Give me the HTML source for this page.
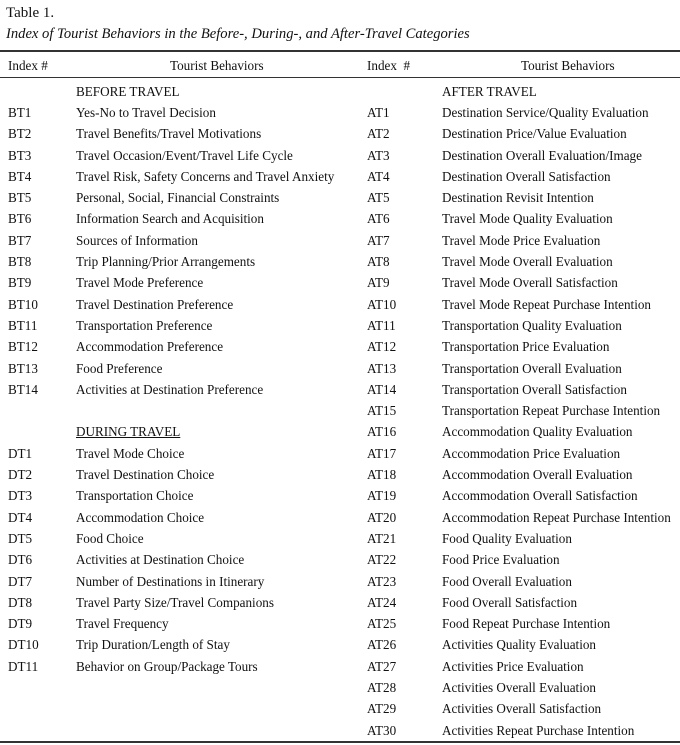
<!DOCTYPE html>
<html><head><meta charset="utf-8"><style>
body{margin:0;width:680px;height:745px;background:#fff;position:relative;overflow:hidden;font-family:"Liberation Serif",serif;color:#111}
.t{position:absolute;white-space:nowrap}
.rule{position:absolute;left:0;width:680px;background:#333}
.rows{position:absolute;left:0;top:83.7px;width:680px;font-size:13.15px}
.r{height:21.3px;line-height:16px;position:relative}
.r span{position:absolute;top:0;white-space:nowrap}
.a{left:8px}.b{left:76px}.c{left:367px}.d{left:442px}
</style></head><body>
<div class="t" style="left:6px;top:5px;font-size:15px">Table 1.</div>
<div class="t" style="left:6px;top:26px;font-size:14.6px;font-style:italic">Index of Tourist Behaviors in the Before-, During-, and After-Travel Categories</div>
<div class="rule" style="top:50px;height:2px"></div>
<div class="t" style="left:8px;top:58px;font-size:13.15px;line-height:16px">Index #</div>
<div class="t" style="left:170px;top:58px;font-size:13.15px;line-height:16px">Tourist Behaviors</div>
<div class="t" style="left:367px;top:58px;font-size:13.15px;line-height:16px">Index &nbsp;#</div>
<div class="t" style="left:521px;top:58px;font-size:13.15px;line-height:16px">Tourist Behaviors</div>
<div class="rule" style="top:77px;height:1px"></div>
<div class="rows">
<div class="r"><span class="b">BEFORE TRAVEL</span><span class="d">AFTER TRAVEL</span></div>
<div class="r"><span class="a">BT1</span><span class="b">Yes-No to Travel Decision</span><span class="c">AT1</span><span class="d">Destination Service/Quality Evaluation</span></div>
<div class="r"><span class="a">BT2</span><span class="b">Travel Benefits/Travel Motivations</span><span class="c">AT2</span><span class="d">Destination Price/Value Evaluation</span></div>
<div class="r"><span class="a">BT3</span><span class="b">Travel Occasion/Event/Travel Life Cycle</span><span class="c">AT3</span><span class="d">Destination Overall Evaluation/Image</span></div>
<div class="r"><span class="a">BT4</span><span class="b">Travel Risk, Safety Concerns and Travel Anxiety</span><span class="c">AT4</span><span class="d">Destination Overall Satisfaction</span></div>
<div class="r"><span class="a">BT5</span><span class="b">Personal, Social, Financial Constraints</span><span class="c">AT5</span><span class="d">Destination Revisit Intention</span></div>
<div class="r"><span class="a">BT6</span><span class="b">Information Search and Acquisition</span><span class="c">AT6</span><span class="d">Travel Mode Quality Evaluation</span></div>
<div class="r"><span class="a">BT7</span><span class="b">Sources of Information</span><span class="c">AT7</span><span class="d">Travel Mode Price Evaluation</span></div>
<div class="r"><span class="a">BT8</span><span class="b">Trip Planning/Prior Arrangements</span><span class="c">AT8</span><span class="d">Travel Mode Overall Evaluation</span></div>
<div class="r"><span class="a">BT9</span><span class="b">Travel Mode Preference</span><span class="c">AT9</span><span class="d">Travel Mode Overall Satisfaction</span></div>
<div class="r"><span class="a">BT10</span><span class="b">Travel Destination Preference</span><span class="c">AT10</span><span class="d">Travel Mode Repeat Purchase Intention</span></div>
<div class="r"><span class="a">BT11</span><span class="b">Transportation Preference</span><span class="c">AT11</span><span class="d">Transportation Quality Evaluation</span></div>
<div class="r"><span class="a">BT12</span><span class="b">Accommodation Preference</span><span class="c">AT12</span><span class="d">Transportation Price Evaluation</span></div>
<div class="r"><span class="a">BT13</span><span class="b">Food Preference</span><span class="c">AT13</span><span class="d">Transportation Overall Evaluation</span></div>
<div class="r"><span class="a">BT14</span><span class="b">Activities at Destination Preference</span><span class="c">AT14</span><span class="d">Transportation Overall Satisfaction</span></div>
<div class="r"><span class="c">AT15</span><span class="d">Transportation Repeat Purchase Intention</span></div>
<div class="r"><span class="b" style="text-decoration:underline">DURING TRAVEL</span><span class="c">AT16</span><span class="d">Accommodation Quality Evaluation</span></div>
<div class="r"><span class="a">DT1</span><span class="b">Travel Mode Choice</span><span class="c">AT17</span><span class="d">Accommodation Price Evaluation</span></div>
<div class="r"><span class="a">DT2</span><span class="b">Travel Destination Choice</span><span class="c">AT18</span><span class="d">Accommodation Overall Evaluation</span></div>
<div class="r"><span class="a">DT3</span><span class="b">Transportation Choice</span><span class="c">AT19</span><span class="d">Accommodation Overall Satisfaction</span></div>
<div class="r"><span class="a">DT4</span><span class="b">Accommodation Choice</span><span class="c">AT20</span><span class="d">Accommodation Repeat Purchase Intention</span></div>
<div class="r"><span class="a">DT5</span><span class="b">Food Choice</span><span class="c">AT21</span><span class="d">Food Quality Evaluation</span></div>
<div class="r"><span class="a">DT6</span><span class="b">Activities at Destination Choice</span><span class="c">AT22</span><span class="d">Food Price Evaluation</span></div>
<div class="r"><span class="a">DT7</span><span class="b">Number of Destinations in Itinerary</span><span class="c">AT23</span><span class="d">Food Overall Evaluation</span></div>
<div class="r"><span class="a">DT8</span><span class="b">Travel Party Size/Travel Companions</span><span class="c">AT24</span><span class="d">Food Overall Satisfaction</span></div>
<div class="r"><span class="a">DT9</span><span class="b">Travel Frequency</span><span class="c">AT25</span><span class="d">Food Repeat Purchase Intention</span></div>
<div class="r"><span class="a">DT10</span><span class="b">Trip Duration/Length of Stay</span><span class="c">AT26</span><span class="d">Activities Quality Evaluation</span></div>
<div class="r"><span class="a">DT11</span><span class="b">Behavior on Group/Package Tours</span><span class="c">AT27</span><span class="d">Activities Price Evaluation</span></div>
<div class="r"><span class="c">AT28</span><span class="d">Activities Overall Evaluation</span></div>
<div class="r"><span class="c">AT29</span><span class="d">Activities Overall Satisfaction</span></div>
<div class="r"><span class="c">AT30</span><span class="d">Activities Repeat Purchase Intention</span></div>
</div>
<div class="rule" style="top:741px;height:2px"></div>
</body></html>
